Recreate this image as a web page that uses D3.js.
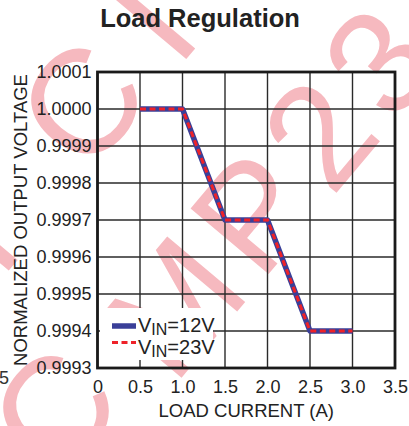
<!DOCTYPE html>
<html>
<head>
<meta charset="utf-8">
<script src="https://cdn.jsdelivr.net/npm/d3@7"></script>
<style>
  body { margin: 0; background: #fff; }
  svg { display: block; font-family: "Liberation Sans", Arial, sans-serif; }
</style>
</head>
<body>
<svg id="chart_svg" width="409" height="426"></svg>
<script>

var loadCurrent = [0.5, 1.0, 1.5, 2.0, 2.5, 3.0];
var vin12 = [1.0000, 1.0000, 0.9997, 0.9997, 0.99940, 0.99940];
var vin23 = [1.0000, 1.0000, 0.9997, 0.9997, 0.99940, 0.99940];

var xTicks = [0, 0.5, 1.0, 1.5, 2.0, 2.5, 3.0, 3.5];
var xTickLabels = ["0", "0.5", "1.0", "1.5", "2.0", "2.5", "3.0", "3.5"];
var yTicks = [0.9993, 0.9994, 0.9995, 0.9996, 0.9997, 0.9998, 0.9999, 1.0000, 1.0001];

var seriesNames = ["12V", "23V"];

var svg = d3.select("#chart_svg");

var plotLeft = 97.5, plotRight = 395, plotTop = 72, plotBottom = 368;

var x = d3.scaleLinear().domain([0, 3.5]).range([plotLeft, plotRight]);
var y = d3.scaleLinear().domain([0.9993, 1.0001]).range([plotBottom, plotTop]);

// watermark behind everything
var wm = svg.append("g").attr("fill", "#f6b9bf")
  .style("font-family", "'Liberation Sans', Arial, sans-serif")
  .style("font-size", "148px");

var wm1 = wm.append("text")
  .attr("transform", "translate(78,501) rotate(-50)")
  .attr("letter-spacing", "12");
wm1.append("tspan").attr("dy", -25).text("C");
wm1.append("tspan").attr("dx", 30).attr("dy", 25).text("MP23");

var wm2 = wm.append("text")
  .attr("transform", "translate(0,281) rotate(-50)");
wm2.append("tspan").text("I");
wm2.append("tspan").attr("dx", 94).text("C");
wm2.append("tspan").attr("dx", 34).text("I");

// neighbour label cut at left edge
svg.append("text")
  .attr("x", 9).attr("y", 384)
  .attr("text-anchor", "end")
  .attr("fill", "#333")
  .style("font-size", "18px")
  .text("3.5");

// grid
var grid = svg.append("g").attr("stroke", "#2a2a2a").attr("stroke-width", 1.4);

grid.selectAll("line.v").data(xTicks).enter().append("line")
  .attr("class", "v")
  .attr("x1", function(d){ return x(d); })
  .attr("x2", function(d){ return x(d); })
  .attr("y1", plotTop).attr("y2", plotBottom);

grid.selectAll("line.h").data(yTicks).enter().append("line")
  .attr("class", "h")
  .attr("y1", function(d){ return y(d); })
  .attr("y2", function(d){ return y(d); })
  .attr("x1", plotLeft).attr("x2", plotRight);

// frame
svg.append("rect")
  .attr("x", plotLeft).attr("y", plotTop)
  .attr("width", plotRight - plotLeft).attr("height", plotBottom - plotTop)
  .attr("fill", "none")
  .attr("stroke", "#1a1a1a")
  .attr("stroke-width", 2.8);

// axes
var xAxis = d3.axisBottom(x).tickValues(xTicks)
  .tickFormat(function(d, i){ return xTickLabels[i]; })
  .tickSize(0).tickPadding(12);

var yAxis = d3.axisLeft(y).tickValues(yTicks)
  .tickFormat(d3.format(".4f"))
  .tickSize(0).tickPadding(6);

var gx = svg.append("g").attr("transform", "translate(0," + plotBottom + ")").call(xAxis);
var gy = svg.append("g").attr("transform", "translate(" + plotLeft + ",0)").call(yAxis);

[gx, gy].forEach(function(g){
  g.select(".domain").remove();
  g.selectAll("text")
    .attr("fill", "#222")
    .style("font-size", "18px")
    .style("font-family", "'Liberation Sans', Arial, sans-serif");
});

// series
var line = d3.line()
  .x(function(d){ return x(d[0]); })
  .y(function(d){ return y(d[1]); });

var pts12 = loadCurrent.map(function(v, i){ return [v, vin12[i]]; });
var pts23 = loadCurrent.map(function(v, i){ return [v, vin23[i]]; });

svg.append("path").datum(pts12)
  .attr("d", line)
  .attr("fill", "none")
  .attr("stroke", "#3a3f98")
  .attr("stroke-width", 5.5)
  .attr("stroke-linejoin", "round");

svg.append("path").datum(pts23)
  .attr("d", line)
  .attr("fill", "none")
  .attr("stroke", "#ee2229")
  .attr("stroke-width", 3)
  .attr("stroke-dasharray", "6,3.5");

// legend
var legend = svg.append("g");

legend.append("rect")
  .attr("x", 100).attr("y", 308)
  .attr("width", 113).attr("height", 52)
  .attr("fill", "#fff");

var rows = [
  { name: seriesNames[0], y: 326, ty: 332, color: "#3a3f98", width: 5.5, dash: null },
  { name: seriesNames[1], y: 342.5, ty: 354, color: "#ee2229", width: 3, dash: "6,3.5" }
];

rows.forEach(function(r){
  legend.append("line")
    .attr("x1", 112).attr("x2", 136)
    .attr("y1", r.y).attr("y2", r.y)
    .attr("stroke", r.color)
    .attr("stroke-width", r.width)
    .attr("stroke-dasharray", r.dash);

  var t = legend.append("text")
    .attr("x", 138).attr("y", r.ty)
    .attr("fill", "#222")
    .style("font-size", "20px");
  t.append("tspan").text("V");
  t.append("tspan").attr("dy", 3).style("font-size", "16px").text("IN");
  t.append("tspan").attr("dy", -3).text("=" + r.name);
});

// title and axis titles
svg.append("text")
  .attr("x", 200).attr("y", 27)
  .attr("text-anchor", "middle")
  .attr("fill", "#222")
  .style("font-size", "25.5px")
  .style("font-weight", "bold")
  .text("Load Regulation");

svg.append("text")
  .attr("x", (plotLeft + plotRight) / 2).attr("y", 417)
  .attr("text-anchor", "middle")
  .attr("fill", "#222")
  .style("font-size", "18.5px")
  .text("LOAD CURRENT (A)");

svg.append("text")
  .attr("transform", "translate(27," + ((plotTop + plotBottom) / 2) + ") rotate(-90)")
  .attr("text-anchor", "middle")
  .attr("fill", "#222")
  .style("font-size", "18.5px")
  .text("NORMALIZED OUTPUT VOLTAGE");

</script>
</body>
</html>
